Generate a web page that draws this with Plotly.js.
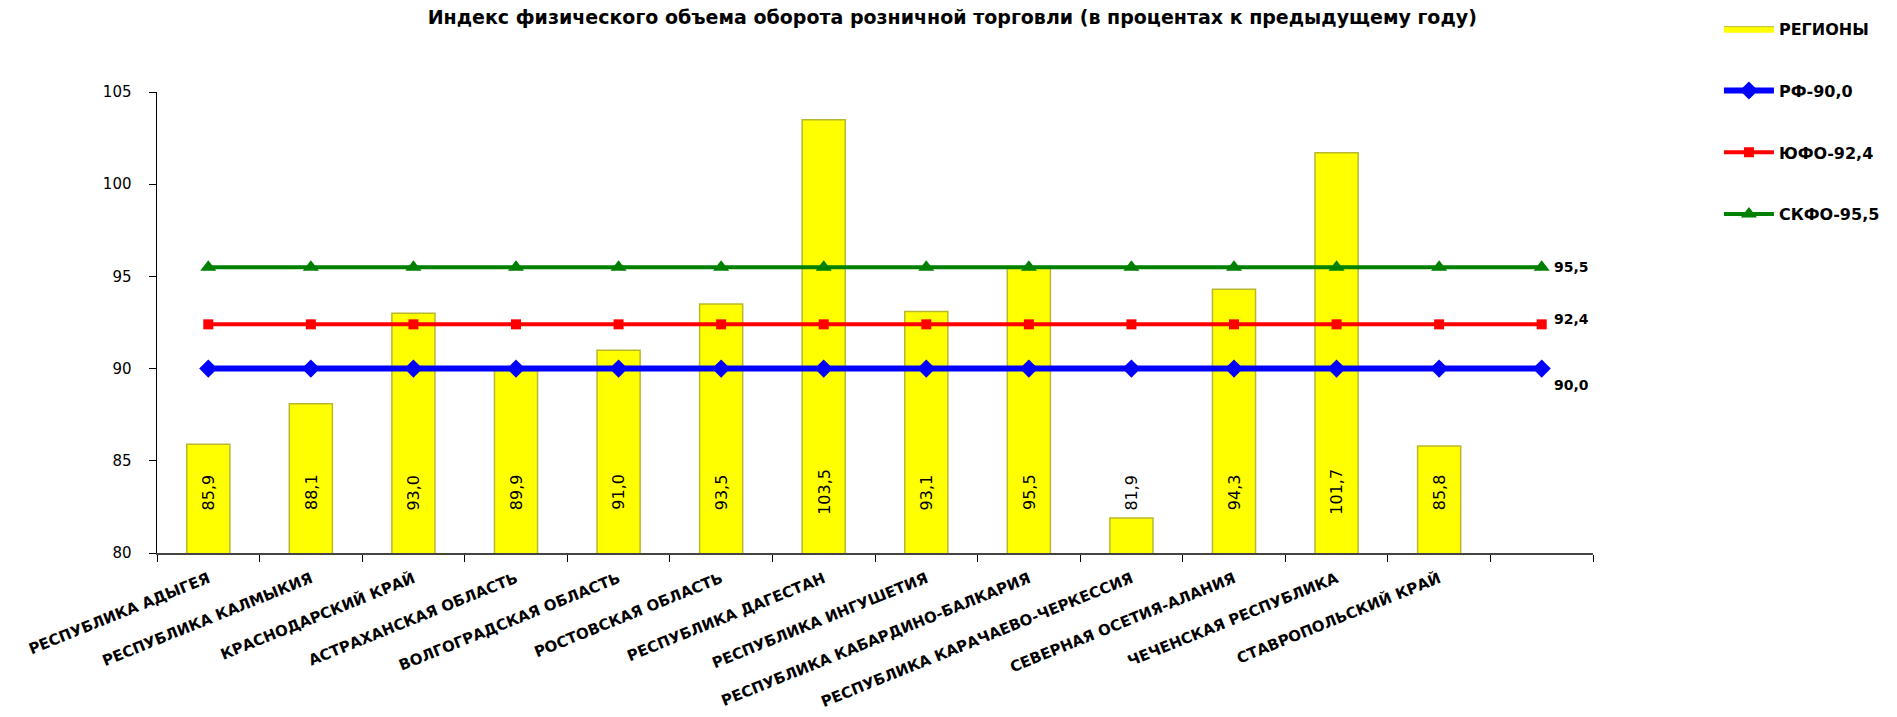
<!DOCTYPE html>
<html>
<head>
<meta charset="utf-8">
<script src="https://cdn.plot.ly/plotly-3.0.1.min.js"></script>
<style>html,body{margin:0;padding:0;background:#fff;}#chart{width:1897px;height:717px;}</style>
</head>
<body>
<div id="chart"></div>
<script>
const categories = [
  'РЕСПУБЛИКА АДЫГЕЯ',
  'РЕСПУБЛИКА КАЛМЫКИЯ',
  'КРАСНОДАРСКИЙ КРАЙ',
  'АСТРАХАНСКАЯ ОБЛАСТЬ',
  'ВОЛГОГРАДСКАЯ ОБЛАСТЬ',
  'РОСТОВСКАЯ ОБЛАСТЬ',
  'РЕСПУБЛИКА ДАГЕСТАН',
  'РЕСПУБЛИКА ИНГУШЕТИЯ',
  'РЕСПУБЛИКА КАБАРДИНО-БАЛКАРИЯ',
  'РЕСПУБЛИКА КАРАЧАЕВО-ЧЕРКЕССИЯ',
  'СЕВЕРНАЯ ОСЕТИЯ-АЛАНИЯ',
  'ЧЕЧЕНСКАЯ РЕСПУБЛИКА',
  'СТАВРОПОЛЬСКИЙ КРАЙ',
  ' '
];
const regionValues = [85.9, 88.1, 93.0, 89.9, 91.0, 93.5, 103.5, 93.1, 95.5, 81.9, 94.3, 101.7, 85.8, null];
const rfValues   = [90.0, 90.0, 90.0, 90.0, 90.0, 90.0, 90.0, 90.0, 90.0, 90.0, 90.0, 90.0, 90.0, 90.0];
const yufoValues = [92.4, 92.4, 92.4, 92.4, 92.4, 92.4, 92.4, 92.4, 92.4, 92.4, 92.4, 92.4, 92.4, 92.4];
const skfoValues = [95.5, 95.5, 95.5, 95.5, 95.5, 95.5, 95.5, 95.5, 95.5, 95.5, 95.5, 95.5, 95.5, 95.5];
const seriesNames = ['РЕГИОНЫ', 'РФ-90,0', 'ЮФО-92,4', 'СКФО-95,5'];
const yTicks = [80, 85, 90, 95, 100, 105];
const titleText = 'Индекс физического объема оборота розничной торговли (в процентах к предыдущему году)';

const fmt = v => v.toFixed(1).replace('.', ',');
const FONT = 'DejaVu Sans, Verdana, sans-serif';
const BAR_FILL = '#ffff00';
const BAR_EDGE = '#b8b830';

const traces = [
  {
    type: 'bar', x: categories, y: regionValues, name: seriesNames[0],
    marker: {color: BAR_FILL, line: {color: BAR_EDGE, width: 1.5}},
    showlegend: false, hoverinfo: 'x+y'
  },
  // legend entry for the bar series (wide filled swatch like the original)
  {
    type: 'scatter', mode: 'lines', x: [null], y: [null], name: '<b>' + seriesNames[0] + '</b>',
    fill: 'toself', fillcolor: BAR_FILL, line: {color: BAR_EDGE, width: 1},
    legendgroup: 'a', hoverinfo: 'skip'
  },
  {
    type: 'scatter', mode: 'lines+markers', x: categories, y: rfValues, name: '<b>' + seriesNames[1] + '</b>',
    line: {color: '#0000ff', width: 6}, marker: {symbol: 'diamond', size: 14, color: '#0000ff'},
    legendgroup: 'b'
  },
  {
    type: 'scatter', mode: 'lines+markers', x: categories, y: yufoValues, name: '<b>' + seriesNames[2] + '</b>',
    line: {color: '#ff0000', width: 4}, marker: {symbol: 'square', size: 10, color: '#ff0000'},
    legendgroup: 'c'
  },
  {
    type: 'scatter', mode: 'lines+markers', x: categories, y: skfoValues, name: '<b>' + seriesNames[3] + '</b>',
    line: {color: '#008000', width: 4}, marker: {symbol: 'triangle-up', size: 14, color: '#008000'},
    legendgroup: 'd'
  }
];

const annotations = [];
regionValues.forEach((v, i) => {
  if (v === null) return;
  annotations.push({
    x: categories[i], y: 83.3, xref: 'x', yref: 'y',
    text: fmt(v), textangle: -90, showarrow: false,
    font: {family: FONT, size: 16, color: '#000'}
  });
});
const last = categories[categories.length - 1];
[[skfoValues, 0], [yufoValues, 5], [rfValues, -16]].forEach(([arr, dy]) => {
  annotations.push({
    x: last, y: arr[arr.length - 1], xref: 'x', yref: 'y',
    text: '<b>' + fmt(arr[arr.length - 1]) + '</b>', showarrow: false,
    xanchor: 'left', xshift: 10, yshift: dy,
    font: {family: FONT, size: 14, color: '#000'}
  });
});

const layout = {
  width: 1897, height: 717,
  margin: {l: 157, r: 280, t: 76, b: 164},
  paper_bgcolor: '#fff', plot_bgcolor: '#fff',
  title: {text: '<b>' + titleText + '</b>', x: 0.502, xanchor: 'center', xref: 'container',
          y: 0.99, yanchor: 'top', yref: 'container', pad: {t: 4},
          font: {family: FONT, size: 19, color: '#000'}},
  bargap: 0.58,
  showlegend: true,
  legend: {x: 1.0877, xanchor: 'left', y: 1.174, yanchor: 'top', traceorder: 'grouped', tracegroupgap: 38,
           itemwidth: 50, font: {family: FONT, size: 16, color: '#000'}, bgcolor: 'rgba(0,0,0,0)'},
  xaxis: {
    type: 'category', showgrid: false, showline: true, linecolor: '#444', linewidth: 1.5,
    ticks: 'outside', tickson: 'boundaries', ticklen: 7, tickcolor: '#000',
    tickangle: -22, ticklabelstandoff: 10, tickfont: {family: FONT, size: 15, color: '#000', weight: 'bold'},
    range: [-0.5, 13.5]
  },
  yaxis: {
    range: [80, 105], tickvals: yTicks, showgrid: false, zeroline: false,
    showline: true, linecolor: '#000', linewidth: 1.5, ticks: 'outside', ticklen: 7, tickcolor: '#000',
    ticklabelstandoff: 14, tickfont: {family: FONT, size: 15, color: '#000'}
  },
  annotations: annotations
};

Plotly.newPlot('chart', traces, layout, {displayModeBar: false, staticPlot: true});
</script>
</body>
</html>
